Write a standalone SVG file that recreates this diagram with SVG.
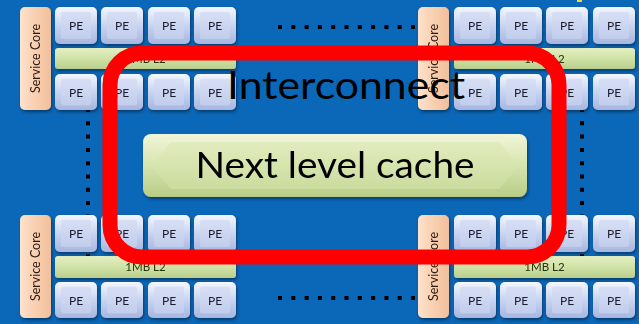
<svg xmlns="http://www.w3.org/2000/svg" xmlns:xlink="http://www.w3.org/1999/xlink" width="639" height="324" viewBox="0 0 639 324">
<defs>
<linearGradient id="peOuter" x1="0" y1="0" x2="0" y2="1">
<stop offset="0" stop-color="#f4f7fe"/><stop offset="0.5" stop-color="#c9d4f0"/><stop offset="1" stop-color="#a7b6df"/>
</linearGradient>
<linearGradient id="peInner" x1="0" y1="0" x2="0" y2="1">
<stop offset="0" stop-color="#d7dff5"/><stop offset="1" stop-color="#c1cdec"/>
</linearGradient>
<linearGradient id="scGrad" x1="0" y1="0" x2="1" y2="0">
<stop offset="0" stop-color="#fde2cc"/><stop offset="0.5" stop-color="#f9cfb0"/><stop offset="1" stop-color="#f1bf9c"/>
</linearGradient>
<linearGradient id="l2Grad" x1="0" y1="0" x2="0" y2="1">
<stop offset="0" stop-color="#e4efc4"/><stop offset="0.5" stop-color="#d0e2a6"/><stop offset="1" stop-color="#b9cf8c"/>
</linearGradient>
<linearGradient id="nlcOuter" x1="0" y1="0" x2="0" y2="1">
<stop offset="0" stop-color="#f0f6d8"/><stop offset="0.5" stop-color="#d6e4ae"/><stop offset="1" stop-color="#b8cc86"/>
</linearGradient>
<linearGradient id="nlcInner" x1="0" y1="0" x2="0" y2="1">
<stop offset="0" stop-color="#e1ecbe"/><stop offset="1" stop-color="#cbdc9e"/>
</linearGradient>
<filter id="shadow" x="-20%" y="-20%" width="140%" height="150%">
<feDropShadow dx="1" dy="2" stdDeviation="1.5" flood-color="#002040" flood-opacity="0.6"/>
</filter>
<symbol id="peTile" viewBox="0 0 42 37" preserveAspectRatio="none">
<rect x="0" y="0" width="42" height="37" rx="5" fill="url(#peOuter)"/>
<rect x="6" y="5" width="30" height="27" rx="2" fill="url(#peInner)"/>
</symbol>
<symbol id="nlcBar" viewBox="0 0 384 63" preserveAspectRatio="none">
<rect x="0" y="0" width="384" height="63" rx="8" fill="url(#nlcOuter)"/>
<polygon points="28,8 356,8 376,31.5 356,55 28,55 8,31.5" fill="url(#nlcInner)"/>
</symbol>
</defs>
<style>
.pe{font-family:Lato,"Liberation Sans",sans-serif;font-size:12px;fill:#1a1a2e;text-anchor:middle}
.sc{font-family:Lato,"Liberation Sans",sans-serif;font-size:12.5px;fill:#2a1a10;text-anchor:middle}
.l2{font-family:Lato,"Liberation Sans",sans-serif;font-size:11.5px;fill:#2a3010;text-anchor:middle}
.big{font-family:Lato,"Liberation Sans",sans-serif;fill:#000;text-anchor:middle}
.dots{stroke:#000;stroke-width:4;stroke-dasharray:4 9.3;fill:none}
</style>
<rect x="0" y="0" width="639" height="324" fill="#0b67b7"/>
<rect x="577" y="0" width="5" height="2" fill="#e8e030"/>

<g id="connectors">
<line class="dots" x1="278" y1="27" x2="424" y2="27"/>
<line class="dots" x1="278" y1="298" x2="424" y2="298"/>
<line class="dots" x1="88" y1="108" x2="88" y2="260"/>
<line class="dots" x1="582" y1="108" x2="582" y2="260"/>
</g>

<!-- Top-left cluster -->
<g id="sc-tl" filter="url(#shadow)"><rect x="20" y="7" width="31" height="103" rx="5" fill="url(#scGrad)"/><text class="sc" transform="translate(40,58.5) rotate(-90)">Service Core</text></g>
<g id="l2-tl" filter="url(#shadow)"><rect x="55" y="48" width="181" height="21" rx="3" fill="url(#l2Grad)"/><text class="l2" x="145.5" y="62.5">1MB L2</text></g>
<g id="pe-tl-1" filter="url(#shadow)"><use xlink:href="#peTile" x="55" y="7" width="42" height="37"/><text class="pe" x="76" y="30">PE</text></g>
<g id="pe-tl-2" filter="url(#shadow)"><use xlink:href="#peTile" x="101" y="7" width="42" height="37"/><text class="pe" x="122" y="30">PE</text></g>
<g id="pe-tl-3" filter="url(#shadow)"><use xlink:href="#peTile" x="148" y="7" width="42" height="37"/><text class="pe" x="169" y="30">PE</text></g>
<g id="pe-tl-4" filter="url(#shadow)"><use xlink:href="#peTile" x="194" y="7" width="42" height="37"/><text class="pe" x="215" y="30">PE</text></g>
<g id="pe-tl-5" filter="url(#shadow)"><use xlink:href="#peTile" x="55" y="74" width="42" height="36"/><text class="pe" x="76" y="96.5">PE</text></g>
<g id="pe-tl-6" filter="url(#shadow)"><use xlink:href="#peTile" x="101" y="74" width="42" height="36"/><text class="pe" x="122" y="96.5">PE</text></g>
<g id="pe-tl-7" filter="url(#shadow)"><use xlink:href="#peTile" x="148" y="74" width="42" height="36"/><text class="pe" x="169" y="96.5">PE</text></g>
<g id="pe-tl-8" filter="url(#shadow)"><use xlink:href="#peTile" x="194" y="74" width="42" height="36"/><text class="pe" x="215" y="96.5">PE</text></g>

<!-- Top-right cluster -->
<g id="sc-tr" filter="url(#shadow)"><rect x="418" y="7" width="31" height="103" rx="5" fill="url(#scGrad)"/><text class="sc" transform="translate(438,58.5) rotate(-90)">Service Core</text></g>
<g id="l2-tr" filter="url(#shadow)"><rect x="454" y="48" width="181" height="21" rx="3" fill="url(#l2Grad)"/><text class="l2" x="544.5" y="62.5">1MB L2</text></g>
<g id="pe-tr-1" filter="url(#shadow)"><use xlink:href="#peTile" x="454" y="7" width="42" height="37"/><text class="pe" x="475" y="30">PE</text></g>
<g id="pe-tr-2" filter="url(#shadow)"><use xlink:href="#peTile" x="500" y="7" width="42" height="37"/><text class="pe" x="521" y="30">PE</text></g>
<g id="pe-tr-3" filter="url(#shadow)"><use xlink:href="#peTile" x="546" y="7" width="42" height="37"/><text class="pe" x="567" y="30">PE</text></g>
<g id="pe-tr-4" filter="url(#shadow)"><use xlink:href="#peTile" x="593" y="7" width="42" height="37"/><text class="pe" x="614" y="30">PE</text></g>
<g id="pe-tr-5" filter="url(#shadow)"><use xlink:href="#peTile" x="454" y="74" width="42" height="36"/><text class="pe" x="475" y="96.5">PE</text></g>
<g id="pe-tr-6" filter="url(#shadow)"><use xlink:href="#peTile" x="500" y="74" width="42" height="36"/><text class="pe" x="521" y="96.5">PE</text></g>
<g id="pe-tr-7" filter="url(#shadow)"><use xlink:href="#peTile" x="546" y="74" width="42" height="36"/><text class="pe" x="567" y="96.5">PE</text></g>
<g id="pe-tr-8" filter="url(#shadow)"><use xlink:href="#peTile" x="593" y="74" width="42" height="36"/><text class="pe" x="614" y="96.5">PE</text></g>

<!-- Bottom-left cluster -->
<g id="sc-bl" filter="url(#shadow)"><rect x="20" y="215" width="31" height="103" rx="5" fill="url(#scGrad)"/><text class="sc" transform="translate(40,266.5) rotate(-90)">Service Core</text></g>
<g id="l2-bl" filter="url(#shadow)"><rect x="55" y="256" width="181" height="22" rx="3" fill="url(#l2Grad)"/><text class="l2" x="145.5" y="271">1MB L2</text></g>
<g id="pe-bl-1" filter="url(#shadow)"><use xlink:href="#peTile" x="55" y="215" width="42" height="37"/><text class="pe" x="76" y="238">PE</text></g>
<g id="pe-bl-2" filter="url(#shadow)"><use xlink:href="#peTile" x="101" y="215" width="42" height="37"/><text class="pe" x="122" y="238">PE</text></g>
<g id="pe-bl-3" filter="url(#shadow)"><use xlink:href="#peTile" x="148" y="215" width="42" height="37"/><text class="pe" x="169" y="238">PE</text></g>
<g id="pe-bl-4" filter="url(#shadow)"><use xlink:href="#peTile" x="194" y="215" width="42" height="37"/><text class="pe" x="215" y="238">PE</text></g>
<g id="pe-bl-5" filter="url(#shadow)"><use xlink:href="#peTile" x="55" y="282" width="42" height="36"/><text class="pe" x="76" y="304.5">PE</text></g>
<g id="pe-bl-6" filter="url(#shadow)"><use xlink:href="#peTile" x="101" y="282" width="42" height="36"/><text class="pe" x="122" y="304.5">PE</text></g>
<g id="pe-bl-7" filter="url(#shadow)"><use xlink:href="#peTile" x="148" y="282" width="42" height="36"/><text class="pe" x="169" y="304.5">PE</text></g>
<g id="pe-bl-8" filter="url(#shadow)"><use xlink:href="#peTile" x="194" y="282" width="42" height="36"/><text class="pe" x="215" y="304.5">PE</text></g>

<!-- Bottom-right cluster -->
<g id="sc-br" filter="url(#shadow)"><rect x="418" y="215" width="31" height="103" rx="5" fill="url(#scGrad)"/><text class="sc" transform="translate(438,266.5) rotate(-90)">Service Core</text></g>
<g id="l2-br" filter="url(#shadow)"><rect x="454" y="256" width="181" height="22" rx="3" fill="url(#l2Grad)"/><text class="l2" x="544.5" y="271">1MB L2</text></g>
<g id="pe-br-1" filter="url(#shadow)"><use xlink:href="#peTile" x="454" y="215" width="42" height="37"/><text class="pe" x="475" y="238">PE</text></g>
<g id="pe-br-2" filter="url(#shadow)"><use xlink:href="#peTile" x="500" y="215" width="42" height="37"/><text class="pe" x="521" y="238">PE</text></g>
<g id="pe-br-3" filter="url(#shadow)"><use xlink:href="#peTile" x="546" y="215" width="42" height="37"/><text class="pe" x="567" y="238">PE</text></g>
<g id="pe-br-4" filter="url(#shadow)"><use xlink:href="#peTile" x="593" y="215" width="42" height="37"/><text class="pe" x="614" y="238">PE</text></g>
<g id="pe-br-5" filter="url(#shadow)"><use xlink:href="#peTile" x="454" y="282" width="42" height="36"/><text class="pe" x="475" y="304.5">PE</text></g>
<g id="pe-br-6" filter="url(#shadow)"><use xlink:href="#peTile" x="500" y="282" width="42" height="36"/><text class="pe" x="521" y="304.5">PE</text></g>
<g id="pe-br-7" filter="url(#shadow)"><use xlink:href="#peTile" x="546" y="282" width="42" height="36"/><text class="pe" x="567" y="304.5">PE</text></g>
<g id="pe-br-8" filter="url(#shadow)"><use xlink:href="#peTile" x="593" y="282" width="42" height="36"/><text class="pe" x="614" y="304.5">PE</text></g>

<g id="next-level-cache" filter="url(#shadow)">
<use xlink:href="#nlcBar" x="143" y="134" width="384" height="63"/>
<text class="big" x="335" y="178" font-size="37" textLength="279" lengthAdjust="spacingAndGlyphs">Next level cache</text>
</g>

<g id="interconnect">
<rect x="110" y="53" width="449" height="204" rx="32" fill="none" stroke="#ff0000" stroke-width="15"/>
<text class="big" x="346" y="99" font-size="38" textLength="238" lengthAdjust="spacingAndGlyphs">Interconnect</text>
</g>
</svg>
